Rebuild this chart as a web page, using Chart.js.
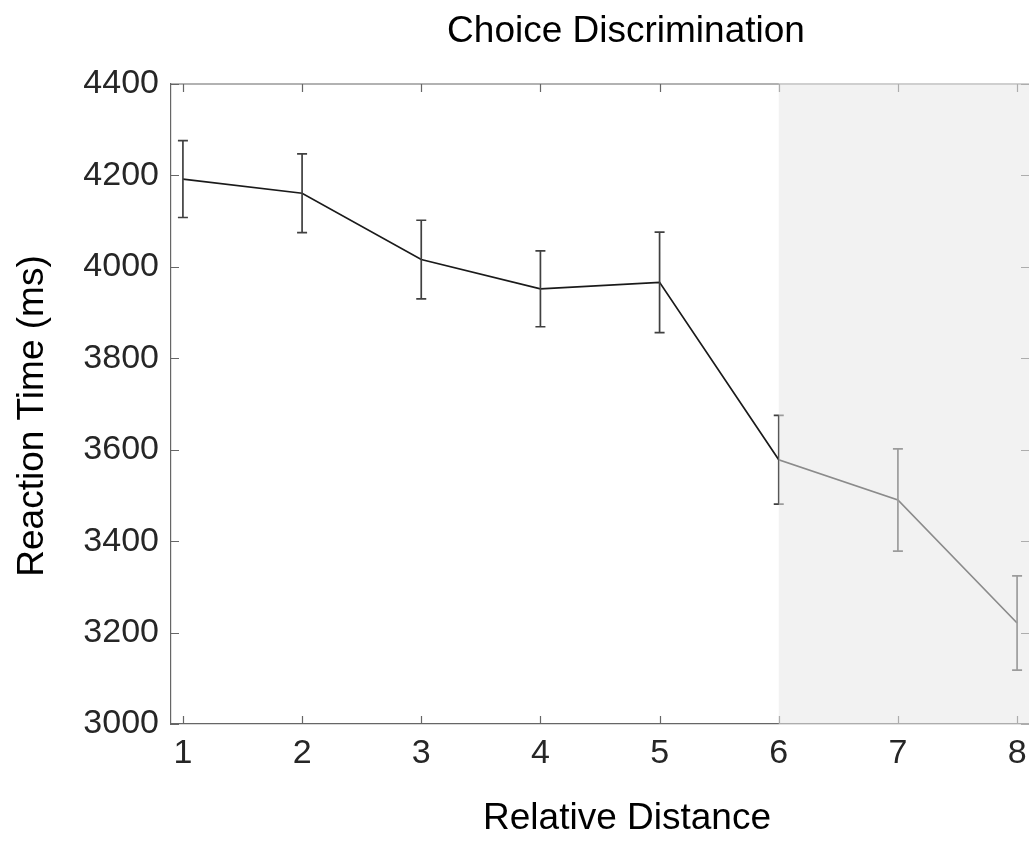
<!DOCTYPE html>
<html>
<head>
<meta charset="utf-8">
<script src="https://cdn.jsdelivr.net/npm/chart.js@4"></script>
<style>
  html, body { margin: 0; padding: 0; background: #fff; overflow: hidden; }
  #wrap { width: 1029px; height: 859px; }
</style>
</head>
<body>
<div id="wrap"><canvas id="rtChart"></canvas></div>
<script>
const relDistance = [1, 2, 3, 4, 5, 6, 7, 8];
const meanRT = [4192, 4161, 4016, 3952, 3966, 3578, 3490, 3221];
const errRT = [84, 86, 86, 83, 110, 97, 112, 103];
const xTicks = [1, 2, 3, 4, 5, 6, 7, 8];
const yTicks = [3000, 3200, 3400, 3600, 3800, 4000, 4200, 4400];
const shadeFrom = 6;

const titleText = 'Choice Discrimination';
const xLabelText = 'Relative Distance';
const yLabelText = 'Reaction Time (ms)';

const FONT = 'Liberation Sans, Arial, Helvetica, sans-serif';

// MATLAB-ish look: inner ticks, top box line, error bars, translucent patch on top
const matlabAxes = {
    id: 'matlabAxes',
    beforeDatasetsDraw(chart) {
        const {ctx, chartArea: a, scales: {x, y}} = chart;
        ctx.save();
        ctx.strokeStyle = '#666';
        ctx.lineWidth = 1.2;
        ctx.beginPath();
        ctx.moveTo(a.left, a.top);
        ctx.lineTo(a.right, a.top);
        xTicks.forEach(v => {
            const px = Math.round(x.getPixelForValue(v)) + 0.5;
            ctx.moveTo(px, a.bottom); ctx.lineTo(px, a.bottom - 8);
            ctx.moveTo(px, a.top); ctx.lineTo(px, a.top + 8);
        });
        yTicks.forEach(v => {
            const py = Math.round(y.getPixelForValue(v)) + 0.5;
            ctx.moveTo(a.left, py); ctx.lineTo(a.left + 8, py);
            ctx.moveTo(a.right, py); ctx.lineTo(a.right - 8, py);
        });
        ctx.stroke();
        ctx.restore();
    },
    afterDatasetsDraw(chart) {
        const {ctx, chartArea: a, scales: {x, y}} = chart;
        ctx.save();
        ctx.strokeStyle = '#404040';
        ctx.lineWidth = 1.7;
        ctx.beginPath();
        relDistance.forEach((v, i) => {
            const px = x.getPixelForValue(v);
            const top = y.getPixelForValue(meanRT[i] + errRT[i]);
            const bot = y.getPixelForValue(meanRT[i] - errRT[i]);
            ctx.moveTo(px, top); ctx.lineTo(px, bot);
            ctx.moveTo(px - 5, top); ctx.lineTo(px + 5, top);
            ctx.moveTo(px - 5, bot); ctx.lineTo(px + 5, bot);
        });
        ctx.stroke();

        const sx = x.getPixelForValue(shadeFrom);
        ctx.fillStyle = 'rgba(231,231,231,0.553)';
        ctx.fillRect(sx, a.top - 1, a.right - sx + 2, a.bottom - a.top + 2);
        ctx.restore();
    },
    afterDraw(chart) {
        // title and axis labels sit off the axes centre in the original figure
        const ctx = chart.ctx;
        ctx.save();
        ctx.fillStyle = '#000';
        ctx.font = '37px ' + FONT;
        ctx.textAlign = 'center';
        ctx.textBaseline = 'alphabetic';
        ctx.fillText(titleText, 626, 42);
        ctx.fillText(xLabelText, 627, 829);
        ctx.translate(43, 416);
        ctx.rotate(-Math.PI / 2);
        ctx.fillText(yLabelText, 0, 0);
        ctx.restore();
    }
};

new Chart(document.getElementById('rtChart'), {
    type: 'line',
    data: {
        datasets: [{
            data: relDistance.map((v, i) => ({x: v, y: meanRT[i]})),
            borderColor: '#1a1a1a',
            borderWidth: 1.7,
            pointRadius: 0,
            tension: 0,
            fill: false
        }]
    },
    options: {
        responsive: true,
        maintainAspectRatio: false,
        animation: false,
        layout: {padding: {top: 84, left: 0, right: 0, bottom: 0}},
        plugins: {
            legend: {display: false},
            tooltip: {enabled: false},
            title: {display: false}
        },
        scales: {
            x: {
                type: 'linear',
                min: 0.9,
                max: 8.1,
                afterBuildTicks: s => { s.ticks = xTicks.map(v => ({value: v})); },
                afterFit: s => { s.height = 135; s.paddingLeft = 0; s.paddingRight = 0; },
                grid: {drawOnChartArea: false, drawTicks: false},
                border: {display: true, color: '#666', width: 1.2},
                ticks: {
                    color: '#262626',
                    padding: 9,
                    maxRotation: 0,
                    font: {family: FONT, size: 34},
                    callback: v => String(v)
                }
            },
            y: {
                min: 3000,
                max: 4400,
                afterBuildTicks: s => { s.ticks = yTicks.map(v => ({value: v})); },
                afterFit: s => { s.width = 171; },
                grid: {drawOnChartArea: false, drawTicks: false},
                border: {display: true, color: '#666', width: 1.2},
                ticks: {
                    color: '#262626',
                    padding: 12,
                    font: {family: FONT, size: 34},
                    callback: v => String(v)
                }
            }
        }
    },
    plugins: [matlabAxes]
});
</script>
</body>
</html>
